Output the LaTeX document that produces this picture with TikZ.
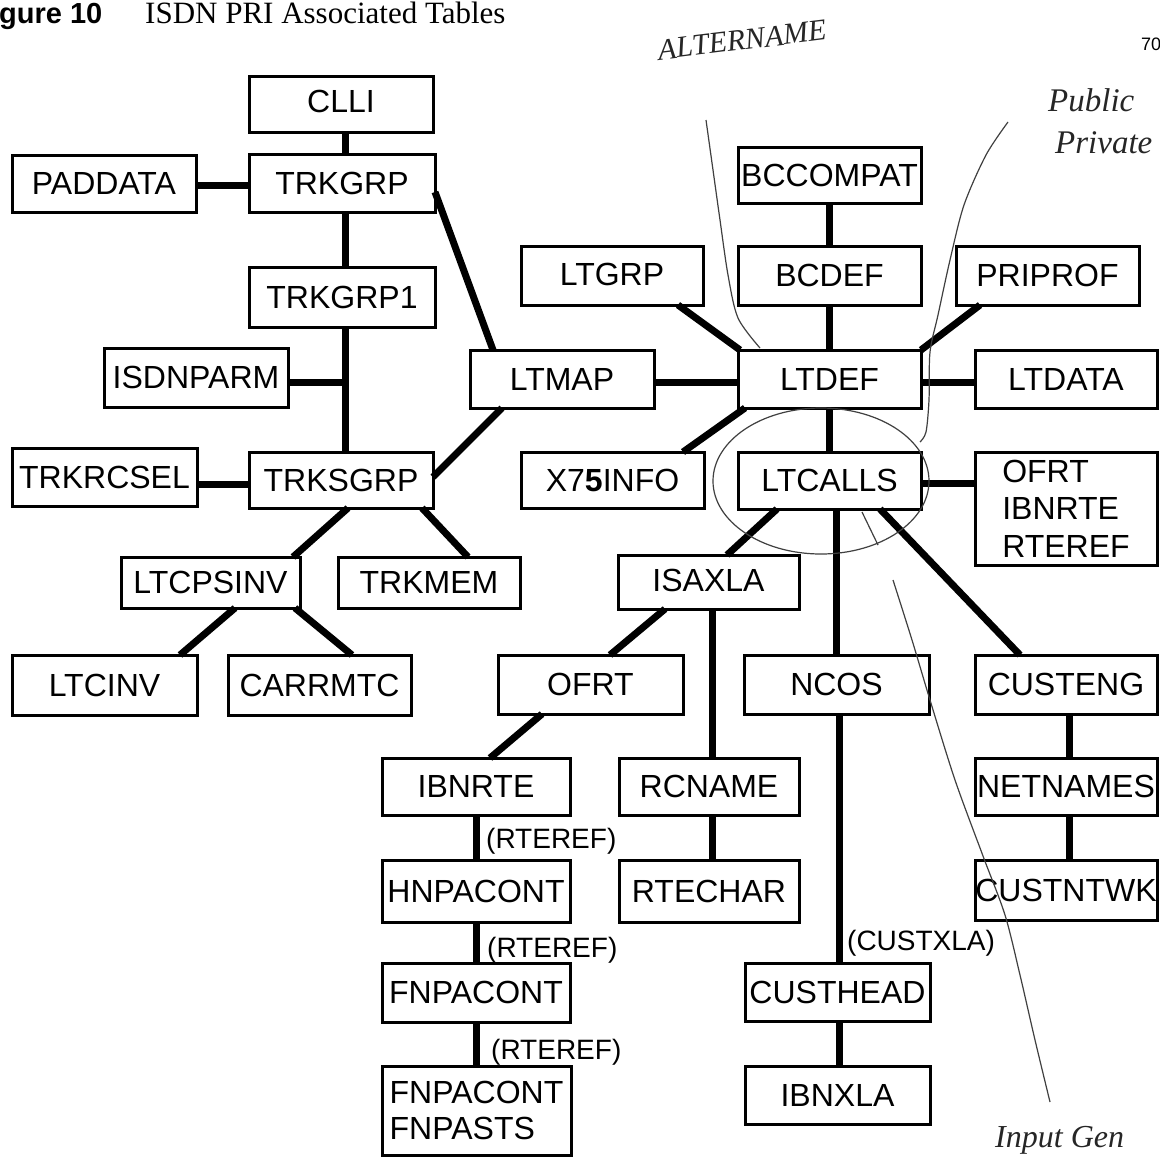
\documentclass[tikz,border=0pt]{standalone}
\usepackage{fontspec}
\setmainfont{Liberation Sans}
\newfontfamily\serifface{Liberation Serif}
\usetikzlibrary{calc}

\tikzset{
  tbox/.style={draw, line width=3pt, rectangle, inner sep=0pt, outer sep=0pt,
    font=\fontsize{32}{37.5}\selectfont, align=center},
  link/.style={line width=7pt},
  lbl/.style={inner sep=0pt, font=\fontsize{28}{32}\selectfont, anchor=west},
  pen/.style={line width=1.2pt, black!75},
  hand/.style={inner sep=0pt, text=black!85, font=\fontsize{30}{34}\serifface\itshape}
}

% table box given by its corners: [options]{name}{x1}{y1}{x2}{y2}{text}
\newcommand{\tbl}[7][]{%
  \node[tbox, #1, minimum width={#5-#3}, minimum height={#6-#4}]
    (#2) at ({(#3+#5)/2},{(#4+#6)/2}) {#7};}

\begin{document}
\begin{tikzpicture}[x=1pt,y=-1pt]
\useasboundingbox (0,0) rectangle (1160,1157);
\fill[white] (0,0) rectangle (1160,1157);

% heading
\node[anchor=base west, inner sep=0pt, font=\fontsize{29}{34}\selectfont\bfseries] (fig) at (-1,23) {gure 10};
\node[anchor=base west, inner sep=0pt, font=\fontsize{31}{34}\serifface] (title) at (145,23) {ISDN PRI Associated Tables};
\node[anchor=base west, inner sep=0pt, font=\fontsize{18}{20}\selectfont] (pg) at (1141,50) {70};

% trunk group tables
\tbl{clli}{249}{76}{433}{132}{\raisebox{6pt}{CLLI}}
\tbl{paddata}{12}{155}{196}{212}{PADDATA}
\tbl{trkgrp}{249}{154}{435}{212}{TRKGRP}
\tbl{trkgrpone}{249}{267}{435}{327}{TRKGRP1}
\tbl{isdnparm}{104}{348}{288}{407}{ISDNPARM}
\tbl{trkrcsel}{12}{448}{197}{506}{TRKRCSEL}
\tbl{trksgrp}{249}{452}{433}{508}{TRKSGRP}
\tbl{ltcpsinv}{121}{557}{300}{608}{LTCPSINV}
\tbl{trkmem}{338}{557}{520}{608}{TRKMEM}
\tbl{ltcinv}{12}{655}{197}{715}{LTCINV}
\tbl{carrmtc}{228}{655}{411}{715}{CARRMTC}

% logical terminal tables
\tbl{ltmap}{470}{350}{654}{408}{LTMAP}
\tbl{bccompat}{738}{147}{921}{203}{BCCOMPAT}
\tbl{ltgrp}{521}{246}{703}{305}{\raisebox{2pt}{LTGRP}}
\tbl{bcdef}{738}{246}{921}{305}{BCDEF}
\tbl{priprof}{956}{246}{1139}{305}{PRIPROF}
\tbl{ltdef}{738}{350}{921}{408}{LTDEF}
\tbl{ltdata}{975}{350}{1157}{408}{LTDATA}
\tbl{xinfo}{521}{452}{704}{508}{X7\textbf{5}INFO}
\tbl{ltcalls}{738}{452}{921}{509}{LTCALLS}
\tbl[align=left]{ofrtgrp}{975}{452}{1157}{565}{OFRT\\IBNRTE\\RTEREF}
\tbl{isaxla}{618}{555}{799}{609}{\raisebox{3pt}{ISAXLA}}
\tbl{ofrt}{498}{655}{683}{714}{OFRT}
\tbl{ncos}{744}{655}{929}{714}{NCOS}
\tbl{custeng}{975}{655}{1157}{714}{CUSTENG}
\tbl{ibnrte}{382}{758}{570}{815}{IBNRTE}
\tbl{rcname}{619}{758}{799}{815}{RCNAME}
\tbl{netnames}{975}{758}{1157}{815}{NETNAMES}
\tbl{hnpacont}{382}{860}{570}{922}{HNPACONT}
\tbl{rtechar}{619}{860}{799}{922}{RTECHAR}
\tbl{custntwk}{975}{860}{1157}{920}{CUSTNTWK}
\tbl{fnpacont}{382}{963}{570}{1022}{FNPACONT}
\tbl{custhead}{745}{963}{930}{1021}{CUSTHEAD}
\tbl[align=left, font=\fontsize{32}{36}\selectfont]{fnpasts}{382}{1066}{571}{1155}{FNPACONT\\FNPASTS}
\tbl{ibnxla}{745}{1066}{930}{1124}{IBNXLA}

% guide lines for straight runs
\coordinate (trunk) at (345,0);
\coordinate (padrow) at (0,185);
\coordinate (isdnrow) at (0,382);
\coordinate (rcselrow) at (0,484);
\coordinate (defrow) at (0,382);
\coordinate (callrow) at (0,483);
\coordinate (rccol) at (712,0);
\coordinate (custcol) at (839,0);
\coordinate (netcol) at (1069,0);

% connectors, left tree
\draw[link] (trunk |- clli.south) -- (trunk |- trkgrp.north);
\draw[link] (trunk |- trkgrp.south) -- (trunk |- trkgrpone.north);
\draw[link] (trunk |- trkgrpone.south) -- (trunk |- trksgrp.north);
\draw[link] (padrow -| paddata.east) -- (padrow -| trkgrp.west);
\draw[link] (isdnrow -| isdnparm.east) -- (isdnrow -| trunk);
\draw[link] (rcselrow -| trkrcsel.east) -- (rcselrow -| trksgrp.west);
\draw[link] ([yshift=-9]trkgrp.east) -- ([xshift=23]ltmap.north west);
\draw[link] ([yshift=3]trksgrp.east) -- ([xshift=32]ltmap.south west);
\draw[link] ([xshift=7]trksgrp.south) -- ([xshift=-7]ltcpsinv.north east);
\draw[link] ([xshift=-11]trksgrp.south east) -- ([xshift=39]trkmem.north);
\draw[link] ([xshift=24.5]ltcpsinv.south) -- ([xshift=-17]ltcinv.north east);
\draw[link] ([xshift=-5]ltcpsinv.south east) -- ([xshift=32.5]carrmtc.north);

% connectors, right tree
\draw[link] (bccompat) -- (bcdef);
\draw[link] (bcdef) -- (ltdef);
\draw[link] ([xshift=-25]ltgrp.south east) -- ([xshift=2]ltdef.north west);
\draw[link] ([xshift=24]priprof.south west) -- (ltdef.north east);
\draw[link] (defrow -| ltmap.east) -- (defrow -| ltdef.west);
\draw[link] (defrow -| ltdef.east) -- (defrow -| ltdata.west);
\draw[link] ([xshift=7]ltdef.south west) -- ([xshift=-21]xinfo.north east);
\draw[link] (ltdef) -- (ltcalls);
\draw[link] (callrow -| ltcalls.east) -- (callrow -| ofrtgrp.west);
\draw[link] ([xshift=39]ltcalls.south west) -- ([xshift=18.5]isaxla.north);
\draw[link] (ncos.north |- ltcalls.south) -- (ncos.north);
\draw[link] ([xshift=-41]ltcalls.south east) -- ([xshift=45]custeng.north west);
\draw[link] ([xshift=47]isaxla.south west) -- ([xshift=19.5]ofrt.north);
\draw[link] (rccol |- isaxla.south) -- (rccol |- rcname.north);
\draw[link] (rccol |- rcname.south) -- (rccol |- rtechar.north);
\draw[link] ([xshift=44]ofrt.south west) -- ([xshift=14]ibnrte.north);
\draw[link] (ibnrte) -- (hnpacont);
\draw[link] (hnpacont) -- (fnpacont);
\draw[link] (fnpacont.south) -- (fnpacont.south |- fnpasts.north);
\draw[link] (custcol |- ncos.south) -- (custcol |- custhead.north);
\draw[link] (custcol |- custhead.south) -- (custcol |- ibnxla.north);
\draw[link] (netcol |- custeng.south) -- (netcol |- netnames.north);
\draw[link] (netcol |- netnames.south) -- (netcol |- custntwk.north);

% key labels on connectors
\node[lbl] (rterefa) at (486,841) {(RTEREF)};
\node[lbl] (rterefb) at (487,950) {(RTEREF)};
\node[lbl] (rterefc) at (491,1052) {(RTEREF)};
\node[lbl] (custxla) at (847,943) {(CUSTXLA)};

% pen notes
\draw[pen] plot[smooth] coordinates {(706,120) (713,170) (720,220) (728,275) (738,318) (760,348)};
\draw[pen] plot[smooth] coordinates {(1008,122) (986,155) (964,205) (950,260) (938,315) (930,352) (929,400) (926,432) (920,442)};
\draw[pen] (821,481) ellipse [x radius=108pt, y radius=73pt];
\draw[pen] (862,512) -- (878,545);
\draw[pen] plot[smooth] coordinates {(893,580) (912,640) (930,700) (955,780) (983,856) (1005,915) (1020,975) (1035,1040) (1050,1102)};

\node[hand, rotate=7] (altername) at (742,40) {ALTERNAME};
\node[hand, anchor=west, font=\fontsize{33}{36}\serifface\itshape] (public) at (1048,100) {Public};
\node[hand, anchor=west, font=\fontsize{33}{36}\serifface\itshape] (private) at (1055,143) {Private};
\node[hand, anchor=base west, font=\fontsize{32}{34}\serifface\itshape] (inputgen) at (995,1147) {Input Gen};
\end{tikzpicture}
\end{document}
